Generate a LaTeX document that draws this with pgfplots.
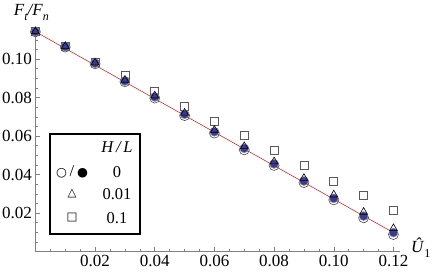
\documentclass[border=0pt]{standalone}
\usepackage{fontspec}
\setmainfont{Liberation Serif}
\newfontfamily\symfont{DejaVu Sans}
\usepackage{pgfplots}
\pgfplotsset{compat=1.18}
\definecolor{fillblue}{RGB}{58,58,150}
\definecolor{axgray}{RGB}{128,128,128}
\definecolor{fitred}{RGB}{215,40,40}
\newcommand\sub[1]{\raisebox{-0.3em}{\fontsize{12bp}{13bp}\selectfont #1}}

\pgfplotstableread{
x     filled  open    tri     sq
0     0.1142  0.1141  0.1143  0.1143
0.01  0.1064  0.1062  0.1066  0.1066
0.02  0.0978  0.0975  0.0981  0.0984
0.03  0.0886  0.0882  0.0891  0.0917
0.04  0.0803  0.0797  0.0809  0.0834
0.05  0.0713  0.0706  0.0720  0.0756
0.06  0.0622  0.0615  0.0631  0.0674
0.07  0.0536  0.0528  0.0546  0.0602
0.08  0.0455  0.0447  0.0467  0.0524
0.09  0.0366  0.0358  0.0381  0.0446
0.10  0.0276  0.0268  0.0295  0.0363
0.11  0.0184  0.0175  0.0205  0.0294
0.12  0.0098  0.0088  0.0120  0.0216
}\data

\begin{document}
\begin{tikzpicture}
\useasboundingbox (0,0) rectangle (436bp,274bp);
\begin{axis}[
  at={(35.4bp,22.5bp)}, anchor=south west,
  scale only axis, width=364.6bp, height=222.5bp,
  xmin=0, xmax=0.1222, ymin=0, ymax=0.1156,
  axis lines=left,
  axis line style={-, draw=axgray, line width=0.6bp},
  clip=false,
  tick align=inside,
  major tick length=4.5bp, minor tick length=2.5bp,
  every tick/.style={draw=axgray, line width=0.5bp},
  xtick={0.02,0.04,0.06,0.08,0.1,0.12},
  ytick={0.02,0.04,0.06,0.08,0.1},
  minor xtick={0.005,0.01,0.015,0.025,0.03,0.035,0.045,0.05,0.055,0.065,0.07,0.075,0.085,0.09,0.095,0.105,0.11,0.115},
  minor ytick={0.005,0.01,0.015,0.025,0.03,0.035,0.045,0.05,0.055,0.065,0.07,0.075,0.085,0.09,0.095,0.105,0.11,0.115},
  /pgf/number format/.cd, fixed, fixed zerofill, precision=2, assume math mode=true,
  /pgfplots/.cd,
  tick label style={font=\fontsize{17bp}{19bp}\selectfont},
  scaled ticks=false,
]
\addplot[only marks, mark=square, mark size=4bp, mark options={draw=black!65, line width=0.6bp}] table[x=x, y=sq] {\data};
\addplot[only marks, mark=o, mark size=5bp, mark options={draw=black!70, line width=0.6bp}] table[x=x, y=open] {\data};
\addplot[only marks, mark=*, mark size=4.4bp, mark options={draw=black!45, fill=fillblue, line width=0.6bp}] table[x=x, y=filled] {\data};
\addplot[only marks, mark=triangle, mark size=4.5bp, mark options={draw=black, line width=0.6bp}] table[x=x, y=tri] {\data};
\addplot[fitred, line width=0.6bp] coordinates {(0,0.1142) (0.12,0.0098)};
\node[anchor=west, font=\fontsize{17bp}{19bp}\selectfont, inner sep=0pt] at (rel axis cs:1,0) [xshift=11bp, yshift=4bp] {\textit{Û}\sub{1}};
\node[anchor=south, font=\fontsize{17bp}{19bp}\selectfont, inner sep=0pt] at (rel axis cs:0,1) [xshift=-4bp, yshift=8bp] {\itshape F\sub{t}/F\sub{n}};
\end{axis}
\draw[line width=1.3bp] (50bp,40bp) rectangle (140bp,140bp);
\begin{scope}[every node/.style={font=\fontsize{16.5bp}{18bp}\selectfont, inner sep=0pt}]
\node at (117bp,127bp) {\itshape H\,/\,L};
\node at (117bp,102bp) {0};
\node at (117bp,80bp) {0.01};
\node at (117bp,56bp) {0.1};
\node at (72bp,102bp) {{\symfont\fontsize{12.5bp}{13bp}\selectfont ○}\,/\,{\symfont\fontsize{12.5bp}{13bp}\selectfont ●}};
\node at (72bp,80bp) {\symfont\fontsize{11.5bp}{12bp}\selectfont △};
\node at (72bp,56bp) {\symfont\fontsize{11.5bp}{12bp}\selectfont □};
\end{scope}
\end{tikzpicture}
\end{document}
